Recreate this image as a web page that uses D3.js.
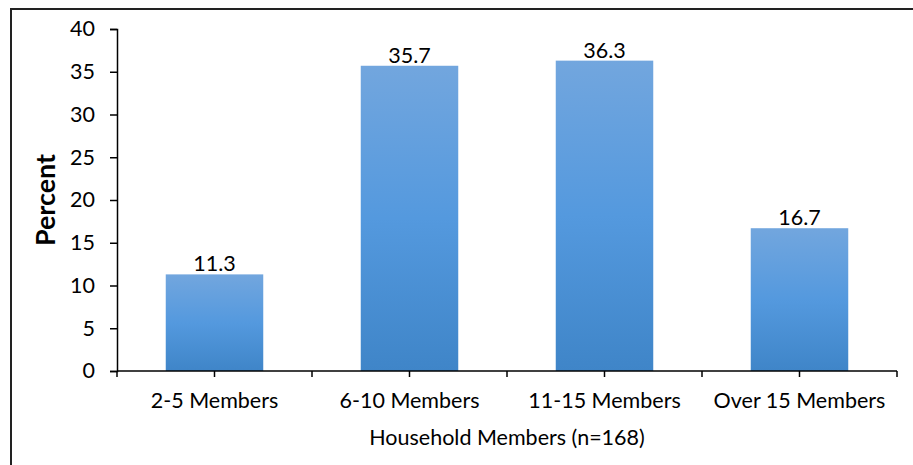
<!DOCTYPE html>
<html><head><meta charset="utf-8">
<script src="https://cdn.jsdelivr.net/npm/d3@7"></script>
<style>body{margin:0;background:#fff}svg{display:block}</style>
</head><body>
<svg id="c" width="913" height="465"></svg>
<script>
const categories = ["2-5 Members", "6-10 Members", "11-15 Members", "Over 15 Members"];
const values = [11.3, 35.7, 36.3, 16.7];
const yTicks = [0, 5, 10, 15, 20, 25, 30, 35, 40];
const yTitle = "Percent";
const xTitle = "Household Members (n=168)";

const svg = d3.select("#c");
const font = "Lato, 'Open Sans', sans-serif";
const fs = 21.5;
const L = 117, R = 897, T = 29, B = 371;

svg.append("rect").attr("x", 11).attr("y", 9).attr("width", 1000).attr("height", 1000)
  .attr("fill", "none").attr("stroke", "#222").attr("stroke-width", 2);

const defs = svg.append("defs");
const g = defs.append("linearGradient").attr("id", "bg").attr("x1", 0).attr("x2", 0).attr("y1", 0).attr("y2", 1);
g.append("stop").attr("offset", "0%").attr("stop-color", "#72a6de");
g.append("stop").attr("offset", "50%").attr("stop-color", "#5499de");
g.append("stop").attr("offset", "100%").attr("stop-color", "#3f85c8");

const x = d3.scaleBand().domain(categories).range([L, R]).paddingInner(0.5).paddingOuter(0.25);
const y = d3.scaleLinear().domain([0, 40]).range([B, T]);

svg.selectAll("rect.bar").data(values).join("rect").attr("class", "bar")
  .attr("x", (d, i) => x(categories[i])).attr("width", x.bandwidth())
  .attr("y", d => y(d)).attr("height", d => B - y(d)).attr("fill", "url(#bg)");

svg.selectAll("text.val").data(values).join("text").attr("class", "val")
  .attr("x", (d, i) => x(categories[i]) + x.bandwidth() / 2).attr("y", d => y(d) - 3)
  .attr("text-anchor", "middle").attr("font-family", font).attr("font-size", fs).attr("fill", "#000")
  .text(d => d.toFixed(1));

// y axis
const ya = svg.append("g").attr("transform", `translate(${L},0)`)
  .call(d3.axisLeft(y).tickValues(yTicks).tickSize(7).tickPadding(15));
ya.select(".domain").attr("stroke", "#000").attr("stroke-width", 1.5);
ya.selectAll(".tick line").attr("stroke", "#000").attr("stroke-width", 1.5);
ya.selectAll("text").attr("font-family", font).attr("font-size", fs).attr("fill", "#000");

// x axis with ticks at boundaries and centers
const step = (R - L) / categories.length;
const xa = svg.append("g").attr("transform", `translate(0,${B})`);
xa.append("line").attr("x1", L).attr("x2", R).attr("stroke", "#000").attr("stroke-width", 1.5);
const tickPos = d3.range(categories.length * 2 + 1).map(i => L + i * step / 2);
xa.selectAll("line.tk").data(tickPos).join("line").attr("class", "tk")
  .attr("x1", d => d).attr("x2", d => d).attr("y1", 0).attr("y2", 6)
  .attr("stroke", "#000").attr("stroke-width", 1.5);
xa.selectAll("text").data(categories).join("text")
  .attr("x", d => x(d) + x.bandwidth() / 2).attr("y", 37)
  .attr("text-anchor", "middle").attr("font-family", font).attr("font-size", fs).attr("fill", "#000")
  .text(d => d);

svg.append("text").attr("x", (L + R) / 2).attr("y", 445).attr("text-anchor", "middle")
  .attr("font-family", font).attr("font-size", fs).attr("fill", "#000").text(xTitle);

svg.append("text").attr("transform", `translate(55,${(T + B) / 2}) rotate(-90)`).attr("text-anchor", "middle")
  .attr("font-family", font).attr("font-size", 27).attr("font-weight", "bold").attr("fill", "#000")
  .attr("textLength", 92).attr("lengthAdjust", "spacingAndGlyphs").text(yTitle);
</script>
</body></html>
